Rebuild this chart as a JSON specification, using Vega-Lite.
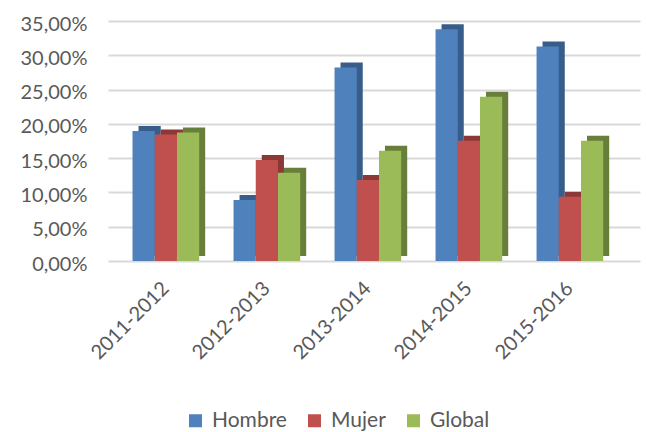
{
  "$schema": "https://vega.github.io/schema/vega-lite/v6.json",
  "width": 532,
  "height": 240,
  "autosize": "none",
  "padding": {"left": 108, "top": 21, "right": 6, "bottom": 171},
  "config": {
    "view": {"stroke": null},
    "font": "Lato",
    "axis": {"labelFont": "Lato", "labelColor": "#595959", "labelFontSize": 20},
    "legend": {"labelFont": "Lato", "labelColor": "#595959", "labelFontSize": 21}
  },
  "data": {
    "values": [
      {"periodo": "2011-2012", "grupo": "Hombre", "valor": 0.1897},
      {"periodo": "2011-2012", "grupo": "Mujer", "valor": 0.1845},
      {"periodo": "2011-2012", "grupo": "Global", "valor": 0.1874},
      {"periodo": "2012-2013", "grupo": "Hombre", "valor": 0.0890},
      {"periodo": "2012-2013", "grupo": "Mujer", "valor": 0.1473},
      {"periodo": "2012-2013", "grupo": "Global", "valor": 0.1288},
      {"periodo": "2013-2014", "grupo": "Hombre", "valor": 0.2823},
      {"periodo": "2013-2014", "grupo": "Mujer", "valor": 0.1181},
      {"periodo": "2013-2014", "grupo": "Global", "valor": 0.1609},
      {"periodo": "2014-2015", "grupo": "Hombre", "valor": 0.3379},
      {"periodo": "2014-2015", "grupo": "Mujer", "valor": 0.1754},
      {"periodo": "2014-2015", "grupo": "Global", "valor": 0.2396},
      {"periodo": "2015-2016", "grupo": "Hombre", "valor": 0.3127},
      {"periodo": "2015-2016", "grupo": "Mujer", "valor": 0.0938},
      {"periodo": "2015-2016", "grupo": "Global", "valor": 0.1754}
    ]
  },
  "encoding": {
    "x": {
      "field": "periodo", "type": "nominal", "title": null,
      "scale": {"paddingInner": 0.34, "paddingOuter": 0.3035, "align": 0.4},
      "axis": {"labelAngle": -45, "labelAlign": "right", "labelBaseline": "middle", "ticks": false, "domain": false, "labelPadding": 24}
    },
    "y": {
      "field": "valor", "type": "quantitative", "title": null,
      "scale": {"domain": [0, 0.35], "nice": false},
      "axis": {"values": [0, 0.05, 0.1, 0.15, 0.2, 0.25, 0.3, 0.35], "labelExpr": "replace(format(datum.value, '.2%'), '.', ',')", "ticks": false, "domain": false, "gridColor": "#D9D9D9", "gridWidth": 2, "labelPadding": 21, "labelOffset": 3}
    }
  },
  "layer": [
    {
      "mark": {"type": "bar", "yOffset": -5},
      "encoding": {
        "xOffset": {"field": "grupo", "type": "nominal", "sort": ["Hombre", "Mujer", "Global"], "scale": {"paddingInner": 0, "paddingOuter": 0, "range": [6, 72.66]}},
        "color": {"field": "grupo", "type": "nominal", "legend": null,
          "scale": {"domain": ["Hombre", "Mujer", "Global"], "range": ["#385D8A", "#8C3836", "#677F3A"]}}
      }
    },
    {
      "mark": {"type": "bar"},
      "encoding": {
        "xOffset": {"field": "grupo", "type": "nominal", "sort": ["Hombre", "Mujer", "Global"], "scale": {"paddingInner": 0, "paddingOuter": 0, "range": [0, 66.66]}},
        "color": {"field": "grupo", "type": "nominal",
          "scale": {"domain": ["Hombre", "Mujer", "Global"], "range": ["#4F81BD", "#C0504D", "#9BBB59"]},
          "legend": {"title": null, "orient": "none", "direction": "horizontal", "legendX": 77, "legendY": 389, "symbolType": "square", "symbolSize": 169, "symbolStrokeWidth": 0, "columnPadding": 17, "labelOffset": 6}
        }
      }
    }
  ],
  "resolve": {"scale": {"color": "independent", "xOffset": "independent"}}
}
